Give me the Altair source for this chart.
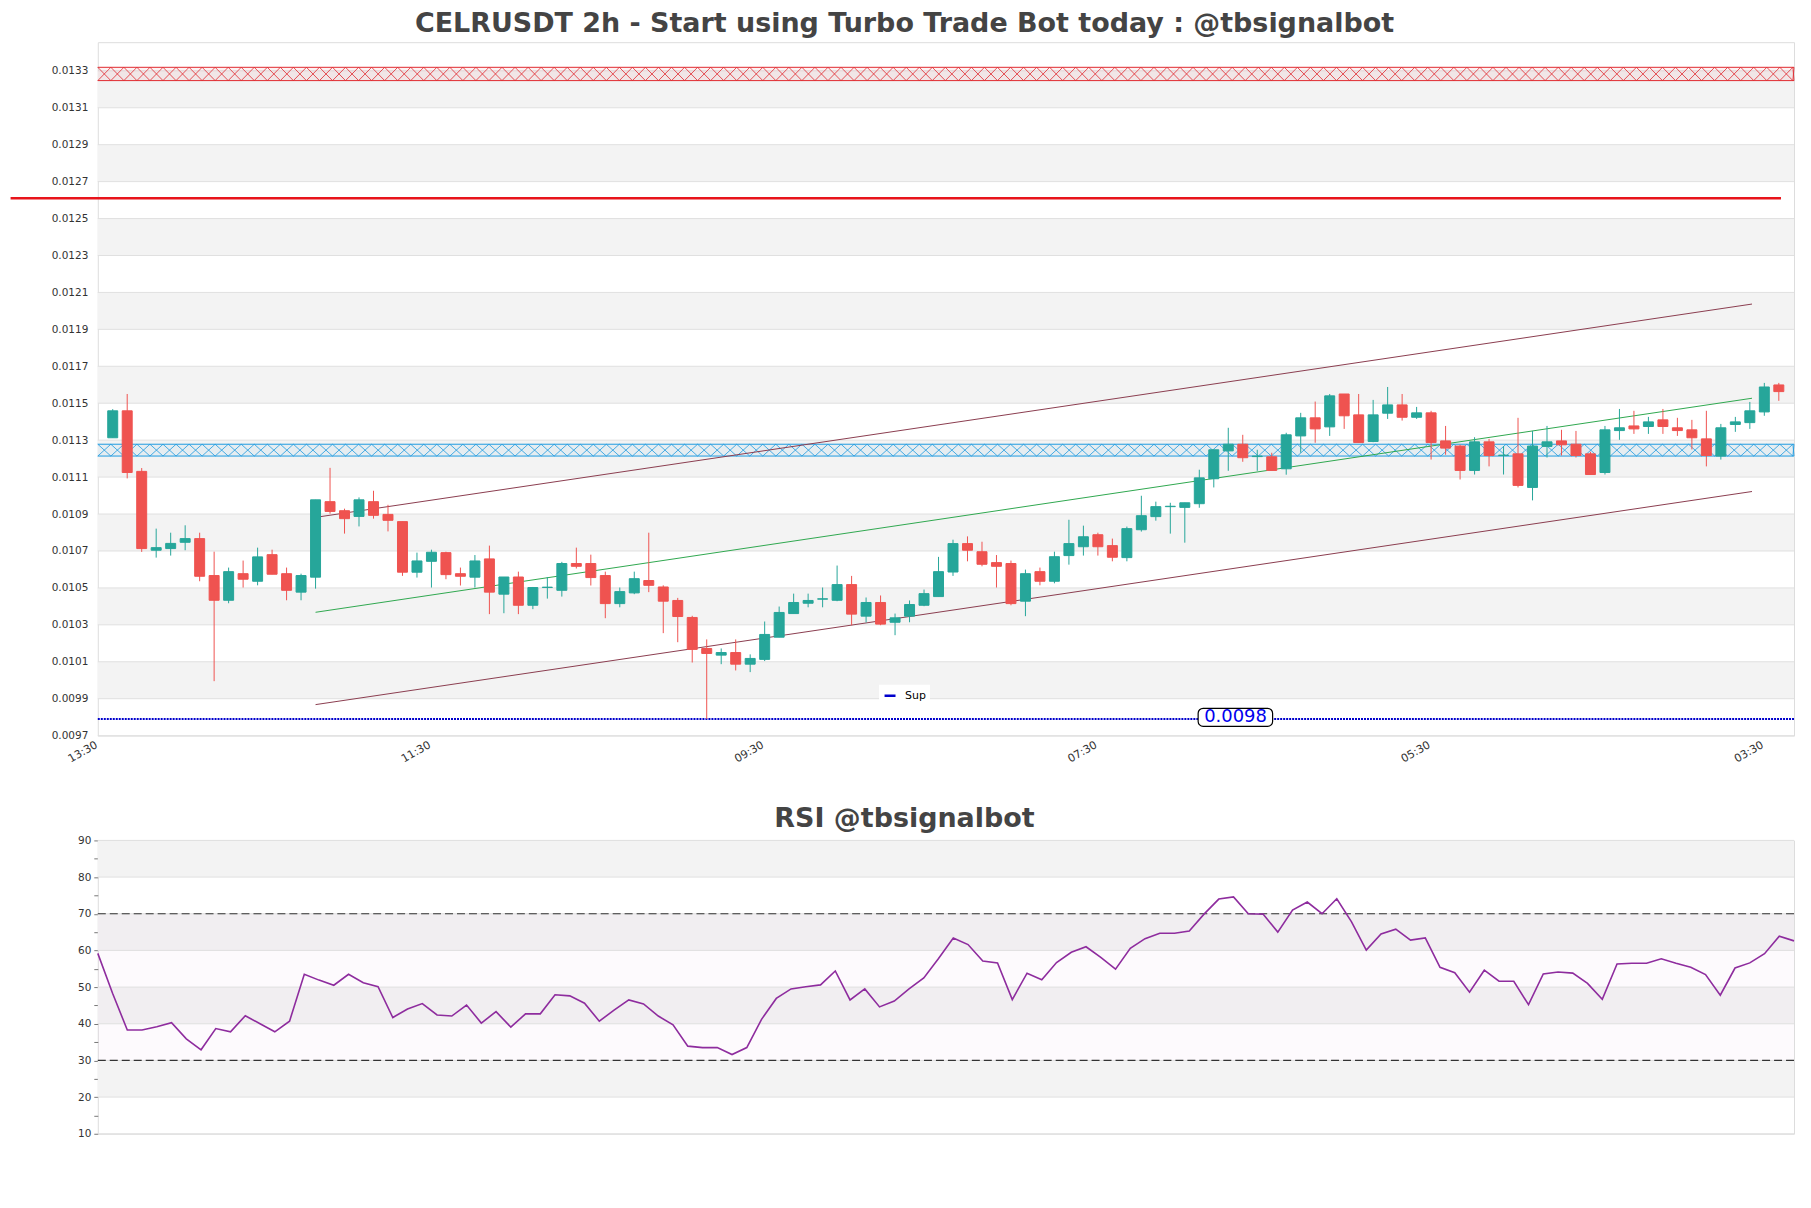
import altair as alt
import pandas as pd
import numpy as np

# ---------------- data ----------------
opens = [0.011313, 0.011459, 0.011131, 0.010704, 0.010713, 0.010747, 0.010767, 0.010567, 0.010433, 0.010577,
         0.010536, 0.010680, 0.010577, 0.010477, 0.010558, 0.010967, 0.010918, 0.010887, 0.010967, 0.010898,
         0.010859, 0.010585, 0.010644, 0.010691, 0.010577, 0.010558, 0.010657, 0.010466, 0.010559, 0.010406,
         0.010502, 0.010487, 0.010632, 0.010632, 0.010567, 0.010415, 0.010473, 0.010540, 0.010505, 0.010432,
         0.010340, 0.010172, 0.010136, 0.010150, 0.010087, 0.010113, 0.010233, 0.010361, 0.010417, 0.010439,
         0.010433, 0.010518, 0.010347, 0.010421, 0.010314, 0.010347, 0.010406, 0.010453, 0.010586, 0.010740,
         0.010696, 0.010637, 0.010632, 0.010428, 0.010588, 0.010536, 0.010675, 0.010723, 0.010788, 0.010729,
         0.010664, 0.010815, 0.010886, 0.010940, 0.010936, 0.010956, 0.011091, 0.011242, 0.011278, 0.011211,
         0.011210, 0.011145, 0.011323, 0.011421, 0.011372, 0.011550, 0.011437, 0.011293, 0.011446, 0.011491,
         0.011424, 0.011448, 0.011296, 0.011268, 0.011136, 0.011291, 0.011217, 0.011226, 0.011044, 0.011266,
         0.011296, 0.011278, 0.011226, 0.011125, 0.011352, 0.011377, 0.011374, 0.011410, 0.011367, 0.011356,
         0.011307, 0.011214, 0.011385, 0.011395, 0.011453, 0.011599]
highs = [0.011468, 0.011550, 0.011149, 0.010821, 0.010799, 0.010839, 0.010799, 0.010696, 0.010610, 0.010648,
         0.010718, 0.010707, 0.010610, 0.010577, 0.010977, 0.011150, 0.010929, 0.010990, 0.011026, 0.010950,
         0.010859, 0.010691, 0.010707, 0.010696, 0.010610, 0.010678, 0.010729, 0.010559, 0.010588, 0.010505,
         0.010559, 0.010641, 0.010718, 0.010680, 0.010588, 0.010502, 0.010588, 0.010799, 0.010514, 0.010446,
         0.010349, 0.010221, 0.010172, 0.010221, 0.010140, 0.010318, 0.010399, 0.010469, 0.010469, 0.010502,
         0.010621, 0.010565, 0.010448, 0.010459, 0.010361, 0.010432, 0.010491, 0.010668, 0.010761, 0.010779,
         0.010750, 0.010678, 0.010648, 0.010599, 0.010610, 0.010696, 0.010869, 0.010837, 0.010799, 0.010767,
         0.010832, 0.010999, 0.010967, 0.010961, 0.010961, 0.011140, 0.011248, 0.011367, 0.011329, 0.011248,
         0.011232, 0.011340, 0.011448, 0.011509, 0.011550, 0.011550, 0.011550, 0.011518, 0.011588, 0.011550,
         0.011480, 0.011459, 0.011377, 0.011275, 0.011316, 0.011307, 0.011268, 0.011421, 0.011350, 0.011377,
         0.011356, 0.011350, 0.011237, 0.011377, 0.011469, 0.011459, 0.011426, 0.011469, 0.011421, 0.011410,
         0.011459, 0.011388, 0.011426, 0.011507, 0.011610, 0.011610]
lows = [0.011313, 0.011093, 0.010695, 0.010664, 0.010675, 0.010704, 0.010536, 0.009995, 0.010417, 0.010502,
        0.010514, 0.010574, 0.010433, 0.010433, 0.010496, 0.010902, 0.010794, 0.010833, 0.010875, 0.010806,
        0.010565, 0.010556, 0.010502, 0.010547, 0.010513, 0.010502, 0.010358, 0.010363, 0.010358, 0.010385,
        0.010442, 0.010453, 0.010605, 0.010513, 0.010336, 0.010395, 0.010466, 0.010477, 0.010255, 0.010206,
        0.010096, 0.009790, 0.010087, 0.010053, 0.010044, 0.010104, 0.010233, 0.010361, 0.010395, 0.010395,
        0.010428, 0.010298, 0.010313, 0.010298, 0.010244, 0.010314, 0.010401, 0.010453, 0.010565, 0.010644,
        0.010617, 0.010502, 0.010406, 0.010347, 0.010514, 0.010525, 0.010626, 0.010675, 0.010675, 0.010644,
        0.010644, 0.010805, 0.010864, 0.010794, 0.010745, 0.010934, 0.011044, 0.011134, 0.011183, 0.011134,
        0.011136, 0.011113, 0.011232, 0.011286, 0.011323, 0.011361, 0.011287, 0.011289, 0.011415, 0.011406,
        0.011415, 0.011195, 0.011221, 0.011087, 0.011114, 0.011158, 0.011114, 0.011044, 0.010974, 0.011206,
        0.011217, 0.011206, 0.011114, 0.011114, 0.011302, 0.011334, 0.011334, 0.011334, 0.011323, 0.011250,
        0.011158, 0.011195, 0.011345, 0.011361, 0.011432, 0.011513]
closes = [0.011459, 0.011125, 0.010713, 0.010718, 0.010741, 0.010767, 0.010563, 0.010433, 0.010588, 0.010547,
          0.010668, 0.010574, 0.010487, 0.010567, 0.010977, 0.010914, 0.010875, 0.010977, 0.010893, 0.010866,
          0.010585, 0.010646, 0.010693, 0.010572, 0.010563, 0.010646, 0.010477, 0.010559, 0.010406, 0.010502,
          0.010504, 0.010632, 0.010617, 0.010556, 0.010415, 0.010480, 0.010550, 0.010514, 0.010428, 0.010345,
          0.010167, 0.010145, 0.010150, 0.010087, 0.010118, 0.010248, 0.010367, 0.010421, 0.010432, 0.010441,
          0.010518, 0.010358, 0.010421, 0.010304, 0.010338, 0.010410, 0.010469, 0.010588, 0.010740, 0.010704,
          0.010628, 0.010617, 0.010415, 0.010577, 0.010536, 0.010669, 0.010740, 0.010777, 0.010723, 0.010666,
          0.010821, 0.010891, 0.010940, 0.010942, 0.010961, 0.011096, 0.011248, 0.011278, 0.011205, 0.011214,
          0.011136, 0.011329, 0.011421, 0.011361, 0.011540, 0.011432, 0.011287, 0.011437, 0.011491, 0.011424,
          0.011448, 0.011287, 0.011257, 0.011136, 0.011291, 0.011217, 0.011219, 0.011055, 0.011268, 0.011291,
          0.011275, 0.011217, 0.011114, 0.011356, 0.011367, 0.011361, 0.011399, 0.011374, 0.011352, 0.011313,
          0.011217, 0.011367, 0.011399, 0.011459, 0.011588, 0.011563]

rsi_values = [59.2, 48.3, 38.3, 38.3, 39.2, 40.3, 35.9, 32.9, 38.7, 37.8,
              42.2, 40.0, 37.8, 40.7, 53.5, 51.9, 50.5, 53.5, 51.2, 50.1,
              41.7, 44.0, 45.5, 42.4, 42.1, 45.1, 40.2, 43.3, 39.1, 42.7,
              42.7, 47.9, 47.6, 45.6, 40.7, 43.7, 46.5, 45.4, 42.1, 39.7,
              33.9, 33.5, 33.5, 31.6, 33.5, 41.2, 46.9, 49.5, 50.1, 50.6,
              54.4, 46.5, 49.5, 44.6, 46.2, 49.5, 52.5, 57.8, 63.4, 61.6,
              57.1, 56.6, 46.6, 53.8, 52.0, 56.7, 59.5, 61.0, 58.1, 54.9,
              60.6, 63.2, 64.7, 64.7, 65.3, 69.9, 74.0, 74.6, 70.0, 69.9,
              65.0, 71.0, 73.2, 70.0, 74.1, 67.8, 60.1, 64.5, 65.8, 62.8,
              63.4, 55.4, 53.9, 48.6, 54.6, 51.6, 51.6, 45.2, 53.6, 54.1,
              53.8, 51.0, 46.7, 56.3, 56.5, 56.5, 57.7, 56.5, 55.4, 53.4,
              47.8, 55.2, 56.6, 59.1, 63.9, 62.6]

price_ticks = [0.0097, 0.0099, 0.0101, 0.0103, 0.0105, 0.0107, 0.0109, 0.0111, 0.0113,
               0.0115, 0.0117, 0.0119, 0.0121, 0.0123, 0.0125, 0.0127, 0.0129, 0.0131, 0.0133]
grey_band_lo = [0.0099, 0.0103, 0.0107, 0.0111, 0.0115, 0.0119, 0.0123, 0.0127, 0.0131]

time_tick_pos = [-1, 22, 45, 68, 91, 114]
time_tick_labels = ["13:30", "11:30", "09:30", "07:30", "05:30", "03:30"]

resist_band = [0.013247, 0.013319]
support_band = [0.011214, 0.011278]
red_level = 0.01261
red_level_x = [-7.05, 115.15]
sup_level = 0.00979
sup_label = "0.0098"
sup_label_x = 77.5
sup_box_x = [74.92, 80.06]
sup_box_y = [0.00975, 0.009848]

channel_x = [14.0, 113.15]
channel_upper = [0.010882, 0.012037]
channel_mid = [0.010368, 0.011527]
channel_lower = [0.009868, 0.011022]

rsi_ticks = [10, 15, 20, 25, 30, 35, 40, 45, 50, 55, 60, 65, 70, 75, 80, 85, 90]
rsi_grid = [10, 20, 30, 40, 50, 60, 70, 80, 90]
rsi_grey_lo = [20, 40, 60, 80]
rsi_zone = [30, 70]

# ---------------- tables ----------------
n = len(closes)
candles = pd.DataFrame({"i": list(range(n)), "open": opens, "high": highs,
                        "low": lows, "close": closes})
rsi_df = pd.DataFrame({"i": list(range(len(rsi_values))), "rsi": rsi_values})

FONT = "DejaVu Sans"
W, H = 1700, 695
RW, RH = 1700, 294
GREEN, RED = "#26a69a", "#ef5350"
XD = [-1.03, 116.05]
EXT = 87

xs = alt.Scale(domain=XD, nice=False, zero=False, padding=0)
ys = alt.Scale(domain=[0.0097, 0.013455], nice=False, zero=False, padding=0)

label_arr = "[" + ",".join("'%s'" % t for t in time_tick_labels) + "]"
xax = alt.Axis(values=time_tick_pos, labelExpr=label_arr + "[round((datum.value + 1) / 23)]",
               labelAngle=-30, labelAlign="right", labelBaseline="top", labelOffset=-5,
               ticks=False, grid=False, domain=False, labelFontSize=11,
               labelFont=FONT, labelColor="#333333", labelPadding=3, title=None,
               minExtent=30, maxExtent=30)
yax = alt.Axis(values=price_ticks, format=".4f", ticks=False, grid=False, domain=False,
               labelFontSize=10.5, labelFont=FONT, labelColor="#333333", labelPadding=10,
               title=None, minExtent=EXT, maxExtent=EXT)

X = lambda f: alt.X(f, type="quantitative", scale=xs, axis=xax)
Y = lambda f: alt.Y(f, type="quantitative", scale=ys, axis=yax)

bands_df = pd.DataFrame({"lo": grey_band_lo, "hi": [v + 0.0002 for v in grey_band_lo]})
bands = alt.Chart(bands_df).mark_rect(color="#f3f3f3").encode(
    x=alt.value(0), x2=alt.value(W), y=Y("lo"), y2="hi")

grid = alt.Chart(pd.DataFrame({"p": price_ticks})).mark_rule(color="#e0e0e0", strokeWidth=1).encode(
    x=alt.value(0), x2=alt.value(W), y=Y("p"))

def hatch(band, color):
    lo, hi = band
    fill = alt.Chart(pd.DataFrame({"lo": [lo], "hi": [hi]})).mark_rect(
        color=color, opacity=0.06).encode(x=alt.value(0), x2=alt.value(W), y=Y("lo"), y2="hi")
    edges = alt.Chart(pd.DataFrame({"p": [lo, hi]})).mark_rule(
        color=color, strokeWidth=1).encode(x=alt.value(0), x2=alt.value(W), y=Y("p"))
    # cross-hatch texture (two zig-zags across the band)
    step = 0.9
    xk = np.arange(XD[0], XD[1] + step, step)
    xk = np.clip(xk, XD[0], XD[1])
    k = np.arange(len(xk))
    zz = pd.DataFrame({
        "x": np.concatenate([xk, xk]),
        "y": np.concatenate([np.where(k % 2 == 0, hi, lo), np.where(k % 2 == 0, lo, hi)]),
        "z": ["a"] * len(xk) + ["b"] * len(xk)})
    zig = alt.Chart(zz).mark_line(color=color, strokeWidth=0.8).encode(
        x=X("x"), y=Y("y"), detail="z:N")
    return [fill, zig, edges]

red_df = pd.DataFrame({"x0": [red_level_x[0]], "x1": [red_level_x[1]], "p": [red_level]})
red_line = alt.Chart(red_df).mark_rule(color="#e8141b", strokeWidth=2.6).encode(
    x=X("x0"), x2="x1", y=Y("p"))

sup_df = pd.DataFrame({"p": [sup_level], "name": ["Sup"]})
sup_line = alt.Chart(sup_df).mark_rule(strokeWidth=2, strokeDash=[2, 1]).encode(
    x=alt.value(0), x2=alt.value(W), y=Y("p"),
    color=alt.Color("name:N", scale=alt.Scale(domain=["Sup"], range=["#0000cc"]),
                    legend=alt.Legend(orient="none", legendX=783, legendY=644, title=None,
                                      fillColor="white", padding=4, labelFontSize=11,
                                      labelFont=FONT, labelColor="#000000", symbolType="stroke",
                                      symbolSize=121, symbolStrokeWidth=2.5, labelOffset=8)))

chan_df = pd.DataFrame({
    "x0": [channel_x[0]] * 3, "x1": [channel_x[1]] * 3,
    "y0": [channel_upper[0], channel_mid[0], channel_lower[0]],
    "y1": [channel_upper[1], channel_mid[1], channel_lower[1]],
    "c": ["#8b3d4f", "#2fa84f", "#8b3d4f"]})
channels = alt.Chart(chan_df).mark_rule(strokeWidth=1).encode(
    x=X("x0"), x2="x1", y=Y("y0"), y2="y1", color=alt.Color("c:N", scale=None))

updown = alt.condition("datum.close >= datum.open", alt.value(GREEN), alt.value(RED))
wicks = alt.Chart(candles).mark_rule(strokeWidth=1).encode(
    x=X("i"), y=Y("low"), y2="high", color=updown)
bodies = alt.Chart(candles).mark_bar(size=10, strokeWidth=1).encode(
    x=X("i"), y=Y("open"), y2="close", color=updown, stroke=updown)

box_df = pd.DataFrame({"x0": [sup_box_x[0]], "x1": [sup_box_x[1]],
                       "y0": [sup_box_y[0]], "y1": [sup_box_y[1]],
                       "xt": [sup_label_x], "yt": [float(sup_label)], "t": [sup_label]})
sup_box = alt.Chart(box_df).mark_rect(fill="white", stroke="#000000", strokeWidth=1.2,
                                      cornerRadius=5).encode(
    x=X("x0"), x2="x1", y=Y("y0"), y2="y1")
sup_text = alt.Chart(box_df).mark_text(font=FONT, fontSize=18, color="#0000ee",
                                       baseline="middle", align="center").encode(
    x=X("xt"), y=Y("yt"), text="t:N")

price_layers = [bands, grid] + hatch(resist_band, "#e0282e") + hatch(support_band, "#1e9be0") + \
    [red_line, sup_line, channels, wicks, bodies, sup_box, sup_text]

title_kw = dict(fontSize=27, font=FONT, fontWeight="bold", color="#444444", anchor="middle",
                frame="group", dx=-41.5, baseline="alphabetic")

price = alt.layer(*price_layers).properties(
    width=W, height=H,
    title=alt.TitleParams("CELRUSDT 2h - Start using Turbo Trade Bot today : @tbsignalbot",
                          offset=-17, **title_kw))

# ---------------- RSI panel ----------------
rxs = alt.Scale(domain=[0, 115], nice=False, zero=False, padding=0)
rys = alt.Scale(domain=[10, 90], nice=False, zero=False, padding=0)
ryax = alt.Axis(values=rsi_ticks, labelExpr="datum.value % 10 == 0 ? datum.label : ''",
                tickSize=4, tickColor="#777777", grid=False, domain=False,
                labelFontSize=10.5, labelFont=FONT, labelColor="#333333", labelPadding=3,
                title=None, minExtent=EXT, maxExtent=EXT)
RY = lambda f: alt.Y(f, type="quantitative", scale=rys, axis=ryax)

rb_df = pd.DataFrame({"lo": rsi_grey_lo, "hi": [v + 10 for v in rsi_grey_lo]})
rbands = alt.Chart(rb_df).mark_rect(color="#f3f3f3").encode(
    x=alt.value(0), x2=alt.value(RW), y=RY("lo"), y2="hi")
rzone = alt.Chart(pd.DataFrame({"lo": [rsi_zone[0]], "hi": [rsi_zone[1]]})).mark_rect(
    color="#9c27b0", opacity=0.025).encode(x=alt.value(0), x2=alt.value(RW), y=RY("lo"), y2="hi")
rgrid = alt.Chart(pd.DataFrame({"v": rsi_grid})).mark_rule(color="#e0e0e0").encode(
    x=alt.value(0), x2=alt.value(RW), y=RY("v"))
rdash = alt.Chart(pd.DataFrame({"v": rsi_zone})).mark_rule(
    color="#333333", strokeWidth=1.2, strokeDash=[8, 4]).encode(
    x=alt.value(0), x2=alt.value(RW), y=RY("v"))
rline = alt.Chart(rsi_df).mark_line(color="#8e2c9e", strokeWidth=1.6).encode(
    x=alt.X("i:Q", scale=rxs, axis=None), y=RY("rsi"))

rsi = alt.layer(rbands, rzone, rgrid, rdash, rline).properties(
    width=RW, height=RH, title=alt.TitleParams("RSI @tbsignalbot", offset=-19, **title_kw))

chart = alt.vconcat(price, rsi, spacing=38).configure(
    padding={"left": 0, "top": 0, "right": 5, "bottom": 5}
).configure_view(stroke="#dddddd")

chart.save("out.html", embed_options={"renderer": "svg", "actions": False})
